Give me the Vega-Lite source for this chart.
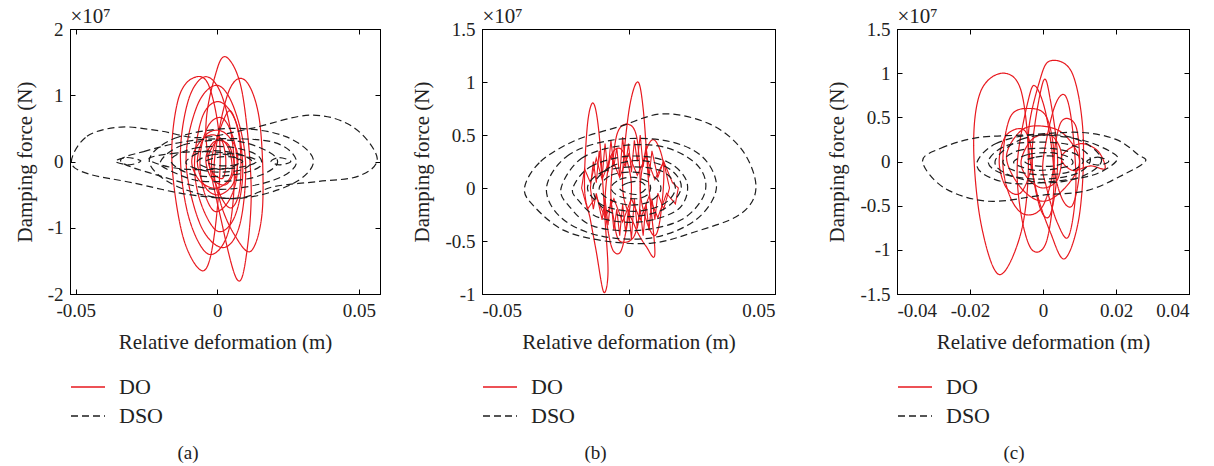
{
"$schema":"https://vega.github.io/schema/vega-lite/v6.json",
"background":"white",
"padding":{"left":13,"top":5,"right":0,"bottom":0},
"config":{
 "font":"Liberation Serif, DejaVu Serif, serif",
 "view":{"stroke":"black","strokeWidth":1},
 "axis":{"grid":false,"domainColor":"#000","tickColor":"#000","labelColor":"#222","titleColor":"#222","labelFontSize":19,"titleFontSize":21,"labelFont":"Liberation Serif, DejaVu Serif, serif","titleFont":"Liberation Serif, DejaVu Serif, serif","titleFontWeight":"normal","tickSize":-5,"labelPadding":12,"titlePadding":11},
 "axisY":{"titlePadding":12},
 "legend":{"symbolType":"stroke","symbolSize":1156,"symbolStrokeWidth":1.3,"labelFontSize":22,"labelFont":"Liberation Serif, DejaVu Serif, serif","labelColor":"#222","rowPadding":-9,"labelOffset":13},
 "title":{"fontSize":19,"fontWeight":"normal","font":"Liberation Serif, DejaVu Serif, serif","color":"#222"},
 "concat":{"spacing":30}
},
"resolve":{"scale":{"color":"independent","strokeDash":"independent","x":"independent","y":"independent"},"legend":{"color":"independent","strokeDash":"independent"}},
"spacing":50,
"datasets":{
"a":[
{"s":"DO","l":1,"x":-0.016,"y":0},{"s":"DO","l":1,"x":-0.014,"y":0.9},{"s":"DO","l":1,"x":-0.009,"y":1.25},{"s":"DO","l":1,"x":-0.003,"y":1.15},{"s":"DO","l":1,"x":0.001,"y":0.2},{"s":"DO","l":1,"x":-0.001,"y":-1.1},{"s":"DO","l":1,"x":-0.005,"y":-1.65},{"s":"DO","l":1,"x":-0.012,"y":-1.15},
{"s":"DO","l":2,"x":-0.004,"y":0.4},{"s":"DO","l":2,"x":0,"y":1.4},{"s":"DO","l":2,"x":0.004,"y":1.55},{"s":"DO","l":2,"x":0.009,"y":1.0},{"s":"DO","l":2,"x":0.012,"y":-0.4},{"s":"DO","l":2,"x":0.010,"y":-1.5},{"s":"DO","l":2,"x":0.007,"y":-1.78},{"s":"DO","l":2,"x":0.002,"y":-1.0},
{"s":"DO","l":3,"x":-0.001,"y":0},{"s":"DO","l":3,"x":0.004,"y":1.05},{"s":"DO","l":3,"x":0.010,"y":1.22},{"s":"DO","l":3,"x":0.015,"y":0.6},{"s":"DO","l":3,"x":0.016,"y":-0.7},{"s":"DO","l":3,"x":0.012,"y":-1.35},{"s":"DO","l":3,"x":0.006,"y":-1.1},{"s":"DO","l":3,"x":0.001,"y":-0.6},
{"s":"DO","l":4,"x":-0.013,"y":0.1},{"s":"DO","l":4,"x":-0.010,"y":0.95},{"s":"DO","l":4,"x":-0.004,"y":1.28},{"s":"DO","l":4,"x":0.002,"y":0.95},{"s":"DO","l":4,"x":0.006,"y":0},{"s":"DO","l":4,"x":0.004,"y":-1.05},{"s":"DO","l":4,"x":-0.003,"y":-1.4},{"s":"DO","l":4,"x":-0.010,"y":-0.85},
{"s":"DO","l":5,"x":-0.011,"y":0},{"s":"DO","l":5,"x":-0.007,"y":0.85},{"s":"DO","l":5,"x":0,"y":1.15},{"s":"DO","l":5,"x":0.006,"y":0.8},{"s":"DO","l":5,"x":0.010,"y":0},{"s":"DO","l":5,"x":0.008,"y":-0.95},{"s":"DO","l":5,"x":0.002,"y":-1.3},{"s":"DO","l":5,"x":-0.006,"y":-0.95},
{"s":"DO","l":6,"x":-0.008,"y":0},{"s":"DO","l":6,"x":-0.005,"y":0.7},{"s":"DO","l":6,"x":0.001,"y":0.9},{"s":"DO","l":6,"x":0.007,"y":0.55},{"s":"DO","l":6,"x":0.009,"y":-0.2},{"s":"DO","l":6,"x":0.006,"y":-0.85},{"s":"DO","l":6,"x":0,"y":-1.05},{"s":"DO","l":6,"x":-0.006,"y":-0.6},
{"s":"DO","l":7,"x":-0.006,"y":0.1},{"s":"DO","l":7,"x":-0.003,"y":0.55},{"s":"DO","l":7,"x":0.002,"y":0.65},{"s":"DO","l":7,"x":0.006,"y":0.3},{"s":"DO","l":7,"x":0.007,"y":-0.2},{"s":"DO","l":7,"x":0.004,"y":-0.6},{"s":"DO","l":7,"x":-0.001,"y":-0.75},{"s":"DO","l":7,"x":-0.005,"y":-0.4},
{"s":"DO","l":8,"x":-0.007,"y":0},{"s":"DO","l":8,"x":-0.004,"y":0.4},{"s":"DO","l":8,"x":0.002,"y":0.45},{"s":"DO","l":8,"x":0.007,"y":0.15},{"s":"DO","l":8,"x":0.006,"y":-0.3},{"s":"DO","l":8,"x":0.001,"y":-0.5},{"s":"DO","l":8,"x":-0.004,"y":-0.4},
{"s":"DO","l":9,"x":-0.004,"y":0.05},{"s":"DO","l":9,"x":-0.001,"y":0.3},{"s":"DO","l":9,"x":0.004,"y":0.25},{"s":"DO","l":9,"x":0.006,"y":-0.1},{"s":"DO","l":9,"x":0.003,"y":-0.35},{"s":"DO","l":9,"x":-0.002,"y":-0.25},
{"s":"DO","l":10,"x":-0.003,"y":0.1},{"s":"DO","l":10,"x":0.001,"y":0.35},{"s":"DO","l":10,"x":0.003,"y":0.05},{"s":"DO","l":10,"x":0.002,"y":-0.25},{"s":"DO","l":10,"x":-0.002,"y":-0.15},
{"s":"DO","l":11,"x":-0.009,"y":0},{"s":"DO","l":11,"x":-0.006,"y":0.3},{"s":"DO","l":11,"x":-0.001,"y":0.4},{"s":"DO","l":11,"x":0.004,"y":0.2},{"s":"DO","l":11,"x":0.005,"y":-0.2},{"s":"DO","l":11,"x":0,"y":-0.4},{"s":"DO","l":11,"x":-0.006,"y":-0.3},
{"s":"DO","l":12,"x":-0.002,"y":0},{"s":"DO","l":12,"x":0.002,"y":0.6},{"s":"DO","l":12,"x":0.005,"y":0.75},{"s":"DO","l":12,"x":0.008,"y":0.3},{"s":"DO","l":12,"x":0.008,"y":-0.4},{"s":"DO","l":12,"x":0.005,"y":-0.7},{"s":"DO","l":12,"x":0.001,"y":-0.5},
{"s":"DSO","l":21,"x":-0.0515,"y":0},{"s":"DSO","l":21,"x":-0.046,"y":0.38},{"s":"DSO","l":21,"x":-0.034,"y":0.52},{"s":"DSO","l":21,"x":-0.02,"y":0.46},{"s":"DSO","l":21,"x":-0.006,"y":0.36},{"s":"DSO","l":21,"x":0.012,"y":0.5},{"s":"DSO","l":21,"x":0.033,"y":0.7},{"s":"DSO","l":21,"x":0.048,"y":0.52},{"s":"DSO","l":21,"x":0.0565,"y":0.05},{"s":"DSO","l":21,"x":0.05,"y":-0.22},{"s":"DSO","l":21,"x":0.036,"y":-0.3},{"s":"DSO","l":21,"x":0.02,"y":-0.38},{"s":"DSO","l":21,"x":0.008,"y":-0.55},{"s":"DSO","l":21,"x":-0.01,"y":-0.5},{"s":"DSO","l":21,"x":-0.03,"y":-0.32},{"s":"DSO","l":21,"x":-0.046,"y":-0.18},
{"s":"DSO","l":22,"x":-0.024,"y":0},{"s":"DSO","l":22,"x":-0.015,"y":0.35},{"s":"DSO","l":22,"x":0.005,"y":0.5},{"s":"DSO","l":22,"x":0.024,"y":0.38},{"s":"DSO","l":22,"x":0.034,"y":0.02},{"s":"DSO","l":22,"x":0.026,"y":-0.35},{"s":"DSO","l":22,"x":0.006,"y":-0.56},{"s":"DSO","l":22,"x":-0.014,"y":-0.38},
{"s":"DSO","l":23,"x":-0.034,"y":0},{"s":"DSO","l":23,"x":-0.026,"y":0.15},{"s":"DSO","l":23,"x":-0.006,"y":0.33},{"s":"DSO","l":23,"x":0.019,"y":0.3},{"s":"DSO","l":23,"x":0.028,"y":0},{"s":"DSO","l":23,"x":0.02,"y":-0.28},{"s":"DSO","l":23,"x":0,"y":-0.42},{"s":"DSO","l":23,"x":-0.02,"y":-0.22},
{"s":"DSO","l":24,"x":-0.02,"y":0},{"s":"DSO","l":24,"x":-0.012,"y":0.25},{"s":"DSO","l":24,"x":0.005,"y":0.32},{"s":"DSO","l":24,"x":0.018,"y":0.15},{"s":"DSO","l":24,"x":0.021,"y":-0.05},{"s":"DSO","l":24,"x":0.012,"y":-0.25},{"s":"DSO","l":24,"x":-0.005,"y":-0.3},{"s":"DSO","l":24,"x":-0.016,"y":-0.15},
{"s":"DSO","l":25,"x":-0.016,"y":0.05},{"s":"DSO","l":25,"x":-0.008,"y":0.2},{"s":"DSO","l":25,"x":0.004,"y":0.22},{"s":"DSO","l":25,"x":0.014,"y":0.1},{"s":"DSO","l":25,"x":0.015,"y":-0.08},{"s":"DSO","l":25,"x":0.006,"y":-0.2},{"s":"DSO","l":25,"x":-0.006,"y":-0.22},{"s":"DSO","l":25,"x":-0.014,"y":-0.1},
{"s":"DSO","l":26,"x":-0.011,"y":0},{"s":"DSO","l":26,"x":-0.005,"y":0.15},{"s":"DSO","l":26,"x":0.005,"y":0.14},{"s":"DSO","l":26,"x":0.012,"y":0.02},{"s":"DSO","l":26,"x":0.009,"y":-0.12},{"s":"DSO","l":26,"x":0,"y":-0.16},{"s":"DSO","l":26,"x":-0.008,"y":-0.1},
{"s":"DSO","l":27,"x":-0.007,"y":0},{"s":"DSO","l":27,"x":-0.002,"y":0.1},{"s":"DSO","l":27,"x":0.004,"y":0.1},{"s":"DSO","l":27,"x":0.008,"y":0},{"s":"DSO","l":27,"x":0.004,"y":-0.1},{"s":"DSO","l":27,"x":-0.003,"y":-0.1},
{"s":"DSO","l":28,"x":-0.036,"y":0},{"s":"DSO","l":28,"x":-0.032,"y":0.06},{"s":"DSO","l":28,"x":-0.027,"y":0.01},{"s":"DSO","l":28,"x":-0.031,"y":-0.05},
{"s":"DSO","l":29,"x":0.019,"y":0},{"s":"DSO","l":29,"x":0.022,"y":0.06},{"s":"DSO","l":29,"x":0.026,"y":0},{"s":"DSO","l":29,"x":0.022,"y":-0.05},
{"s":"DSO","l":30,"x":-0.024,"y":0.05},{"s":"DSO","l":30,"x":-0.016,"y":0.12},{"s":"DSO","l":30,"x":-0.005,"y":0.15},{"s":"DSO","l":30,"x":0.008,"y":0.1},{"s":"DSO","l":30,"x":0.014,"y":0},{"s":"DSO","l":30,"x":0.006,"y":-0.1},{"s":"DSO","l":30,"x":-0.01,"y":-0.12},{"s":"DSO","l":30,"x":-0.02,"y":-0.05},
{"s":"DSO","l":31,"x":-0.004,"y":0},{"s":"DSO","l":31,"x":0,"y":0.06},{"s":"DSO","l":31,"x":0.005,"y":0.07},{"s":"DSO","l":31,"x":0.009,"y":0},{"s":"DSO","l":31,"x":0.005,"y":-0.06},{"s":"DSO","l":31,"x":0,"y":-0.06}
],
"b":[
{"s":"DO","l":1,"x":-0.015,"y":0},{"s":"DO","l":1,"x":-0.014,"y":0.6},{"s":"DO","l":1,"x":-0.012,"y":0.8},{"s":"DO","l":1,"x":-0.010,"y":0.5},{"s":"DO","l":1,"x":-0.008,"y":-0.3},{"s":"DO","l":1,"x":-0.007,"y":-0.8},{"s":"DO","l":1,"x":-0.0085,"y":-0.98},{"s":"DO","l":1,"x":-0.011,"y":-0.6},{"s":"DO","l":1,"x":-0.013,"y":-0.3},
{"s":"DO","l":2,"x":-0.002,"y":0},{"s":"DO","l":2,"x":0,"y":0.7},{"s":"DO","l":2,"x":0.003,"y":1.0},{"s":"DO","l":2,"x":0.005,"y":0.75},{"s":"DO","l":2,"x":0.007,"y":0},{"s":"DO","l":2,"x":0.009,"y":-0.62},{"s":"DO","l":2,"x":0.006,"y":-0.55},{"s":"DO","l":2,"x":0.002,"y":-0.35},
{"s":"DO","l":3,"x":-0.006,"y":0},{"s":"DO","l":3,"x":-0.004,"y":0.5},{"s":"DO","l":3,"x":0,"y":0.6},{"s":"DO","l":3,"x":0.003,"y":0.45},{"s":"DO","l":3,"x":0.004,"y":-0.1},{"s":"DO","l":3,"x":0.002,"y":-0.45},{"s":"DO","l":3,"x":-0.003,"y":-0.5},{"s":"DO","l":3,"x":-0.005,"y":-0.3},
{"s":"DO","l":4,"x":-0.008,"y":-0.1},{"s":"DO","l":4,"x":-0.006,"y":0.3},{"s":"DO","l":4,"x":-0.002,"y":0.35},{"s":"DO","l":4,"x":0.001,"y":0},{"s":"DO","l":4,"x":-0.002,"y":-0.55},{"s":"DO","l":4,"x":-0.005,"y":-0.6},{"s":"DO","l":4,"x":-0.007,"y":-0.4},
{"s":"DO","l":5,"x":0.004,"y":0},{"s":"DO","l":5,"x":0.006,"y":0.35},{"s":"DO","l":5,"x":0.009,"y":0.45},{"s":"DO","l":5,"x":0.012,"y":0.2},{"s":"DO","l":5,"x":0.011,"y":-0.25},{"s":"DO","l":5,"x":0.009,"y":-0.45},{"s":"DO","l":5,"x":0.006,"y":-0.3},
{"s":"DO","l":101,"x":-0.013,"y":0},{"s":"DO","l":101,"x":-0.012,"y":0.25},{"s":"DO","l":101,"x":-0.011,"y":0.05},{"s":"DO","l":101,"x":-0.010,"y":0.35},{"s":"DO","l":101,"x":-0.009,"y":0.1},{"s":"DO","l":101,"x":-0.008,"y":0.42},{"s":"DO","l":101,"x":-0.007,"y":0.15},{"s":"DO","l":101,"x":-0.006,"y":0.45},{"s":"DO","l":101,"x":-0.005,"y":0.2},{"s":"DO","l":101,"x":-0.004,"y":0.38},{"s":"DO","l":101,"x":-0.003,"y":0.1},{"s":"DO","l":101,"x":-0.002,"y":0.48},{"s":"DO","l":101,"x":-0.001,"y":0.2},{"s":"DO","l":101,"x":0,"y":0.42},{"s":"DO","l":101,"x":0.001,"y":0.15},{"s":"DO","l":101,"x":0.002,"y":0.45},{"s":"DO","l":101,"x":0.003,"y":0.25},{"s":"DO","l":101,"x":0.004,"y":0.5},{"s":"DO","l":101,"x":0.005,"y":0.2},{"s":"DO","l":101,"x":0.006,"y":0.4},{"s":"DO","l":101,"x":0.007,"y":0.1},{"s":"DO","l":101,"x":0.008,"y":0.35},{"s":"DO","l":101,"x":0.010,"y":0.1},{"s":"DO","l":101,"x":0.012,"y":0.25},{"s":"DO","l":101,"x":0.014,"y":0},{"s":"DO","l":101,"x":0.012,"y":-0.2},{"s":"DO","l":101,"x":0.010,"y":-0.05},{"s":"DO","l":101,"x":0.009,"y":-0.3},{"s":"DO","l":101,"x":0.008,"y":-0.1},{"s":"DO","l":101,"x":0.007,"y":-0.4},{"s":"DO","l":101,"x":0.006,"y":-0.15},{"s":"DO","l":101,"x":0.005,"y":-0.45},{"s":"DO","l":101,"x":0.004,"y":-0.2},{"s":"DO","l":101,"x":0.003,"y":-0.38},{"s":"DO","l":101,"x":0.002,"y":-0.1},{"s":"DO","l":101,"x":0.001,"y":-0.48},{"s":"DO","l":101,"x":0,"y":-0.2},{"s":"DO","l":101,"x":-0.001,"y":-0.42},{"s":"DO","l":101,"x":-0.002,"y":-0.15},{"s":"DO","l":101,"x":-0.003,"y":-0.45},{"s":"DO","l":101,"x":-0.004,"y":-0.2},{"s":"DO","l":101,"x":-0.005,"y":-0.4},{"s":"DO","l":101,"x":-0.006,"y":-0.1},{"s":"DO","l":101,"x":-0.007,"y":-0.35},{"s":"DO","l":101,"x":-0.008,"y":-0.1},{"s":"DO","l":101,"x":-0.009,"y":-0.3},{"s":"DO","l":101,"x":-0.011,"y":-0.05},{"s":"DO","l":101,"x":-0.012,"y":-0.2},
{"s":"DO","l":102,"x":-0.016,"y":0},{"s":"DO","l":102,"x":-0.015,"y":0.18},{"s":"DO","l":102,"x":-0.013,"y":0.05},{"s":"DO","l":102,"x":-0.011,"y":0.28},{"s":"DO","l":102,"x":-0.009,"y":0.08},{"s":"DO","l":102,"x":-0.006,"y":0.3},{"s":"DO","l":102,"x":-0.003,"y":0.1},{"s":"DO","l":102,"x":0,"y":0.32},{"s":"DO","l":102,"x":0.003,"y":0.12},{"s":"DO","l":102,"x":0.006,"y":0.3},{"s":"DO","l":102,"x":0.009,"y":0.08},{"s":"DO","l":102,"x":0.012,"y":0.25},{"s":"DO","l":102,"x":0.015,"y":0.05},{"s":"DO","l":102,"x":0.017,"y":0},{"s":"DO","l":102,"x":0.016,"y":-0.15},{"s":"DO","l":102,"x":0.013,"y":-0.05},{"s":"DO","l":102,"x":0.010,"y":-0.28},{"s":"DO","l":102,"x":0.007,"y":-0.08},{"s":"DO","l":102,"x":0.004,"y":-0.3},{"s":"DO","l":102,"x":0.001,"y":-0.1},{"s":"DO","l":102,"x":-0.002,"y":-0.32},{"s":"DO","l":102,"x":-0.005,"y":-0.1},{"s":"DO","l":102,"x":-0.008,"y":-0.28},{"s":"DO","l":102,"x":-0.011,"y":-0.08},{"s":"DO","l":102,"x":-0.014,"y":-0.2},
{"s":"DSO","l":21,"x":-0.0355,"y":0},{"s":"DSO","l":21,"x":-0.03,"y":0.25},{"s":"DSO","l":21,"x":-0.018,"y":0.45},{"s":"DSO","l":21,"x":-0.003,"y":0.58},{"s":"DSO","l":21,"x":0.012,"y":0.7},{"s":"DSO","l":21,"x":0.028,"y":0.6},{"s":"DSO","l":21,"x":0.039,"y":0.35},{"s":"DSO","l":21,"x":0.0435,"y":0},{"s":"DSO","l":21,"x":0.038,"y":-0.25},{"s":"DSO","l":21,"x":0.022,"y":-0.42},{"s":"DSO","l":21,"x":0.008,"y":-0.52},{"s":"DSO","l":21,"x":-0.008,"y":-0.5},{"s":"DSO","l":21,"x":-0.022,"y":-0.4},{"s":"DSO","l":21,"x":-0.032,"y":-0.18},
{"s":"DSO","l":22,"x":-0.028,"y":0},{"s":"DSO","l":22,"x":-0.021,"y":0.3},{"s":"DSO","l":22,"x":-0.006,"y":0.45},{"s":"DSO","l":22,"x":0.012,"y":0.45},{"s":"DSO","l":22,"x":0.025,"y":0.3},{"s":"DSO","l":22,"x":0.03,"y":0},{"s":"DSO","l":22,"x":0.023,"y":-0.3},{"s":"DSO","l":22,"x":0.008,"y":-0.47},{"s":"DSO","l":22,"x":-0.01,"y":-0.45},{"s":"DSO","l":22,"x":-0.023,"y":-0.28},
{"s":"DSO","l":23,"x":-0.023,"y":0},{"s":"DSO","l":23,"x":-0.016,"y":0.28},{"s":"DSO","l":23,"x":-0.002,"y":0.4},{"s":"DSO","l":23,"x":0.013,"y":0.38},{"s":"DSO","l":23,"x":0.024,"y":0.2},{"s":"DSO","l":23,"x":0.026,"y":-0.05},{"s":"DSO","l":23,"x":0.018,"y":-0.3},{"s":"DSO","l":23,"x":0.003,"y":-0.4},{"s":"DSO","l":23,"x":-0.012,"y":-0.36},{"s":"DSO","l":23,"x":-0.02,"y":-0.18},
{"s":"DSO","l":24,"x":-0.019,"y":0},{"s":"DSO","l":24,"x":-0.013,"y":0.2},{"s":"DSO","l":24,"x":0,"y":0.3},{"s":"DSO","l":24,"x":0.013,"y":0.25},{"s":"DSO","l":24,"x":0.02,"y":0.05},{"s":"DSO","l":24,"x":0.017,"y":-0.2},{"s":"DSO","l":24,"x":0.004,"y":-0.32},{"s":"DSO","l":24,"x":-0.01,"y":-0.28},{"s":"DSO","l":24,"x":-0.017,"y":-0.12},
{"s":"DSO","l":25,"x":-0.014,"y":0},{"s":"DSO","l":25,"x":-0.009,"y":0.15},{"s":"DSO","l":25,"x":0.002,"y":0.2},{"s":"DSO","l":25,"x":0.012,"y":0.15},{"s":"DSO","l":25,"x":0.016,"y":0},{"s":"DSO","l":25,"x":0.012,"y":-0.15},{"s":"DSO","l":25,"x":0.002,"y":-0.22},{"s":"DSO","l":25,"x":-0.009,"y":-0.16},
{"s":"DSO","l":26,"x":-0.01,"y":0},{"s":"DSO","l":26,"x":-0.006,"y":0.12},{"s":"DSO","l":26,"x":0.002,"y":0.15},{"s":"DSO","l":26,"x":0.009,"y":0.1},{"s":"DSO","l":26,"x":0.011,"y":-0.02},{"s":"DSO","l":26,"x":0.007,"y":-0.13},{"s":"DSO","l":26,"x":0,"y":-0.16},{"s":"DSO","l":26,"x":-0.007,"y":-0.1},
{"s":"DSO","l":27,"x":-0.006,"y":0},{"s":"DSO","l":27,"x":-0.003,"y":0.08},{"s":"DSO","l":27,"x":0.002,"y":0.1},{"s":"DSO","l":27,"x":0.007,"y":0.05},{"s":"DSO","l":27,"x":0.007,"y":-0.05},{"s":"DSO","l":27,"x":0.003,"y":-0.1},{"s":"DSO","l":27,"x":-0.003,"y":-0.08},
{"s":"DSO","l":28,"x":-0.003,"y":0},{"s":"DSO","l":28,"x":0,"y":0.05},{"s":"DSO","l":28,"x":0.004,"y":0.06},{"s":"DSO","l":28,"x":0.006,"y":0},{"s":"DSO","l":28,"x":0.003,"y":-0.06},{"s":"DSO","l":28,"x":-0.001,"y":-0.04},
{"s":"DSO","l":29,"x":-0.012,"y":0.02},{"s":"DSO","l":29,"x":-0.006,"y":0.2},{"s":"DSO","l":29,"x":0.004,"y":0.26},{"s":"DSO","l":29,"x":0.014,"y":0.18},{"s":"DSO","l":29,"x":0.018,"y":0},{"s":"DSO","l":29,"x":0.012,"y":-0.2},{"s":"DSO","l":29,"x":0,"y":-0.27},{"s":"DSO","l":29,"x":-0.009,"y":-0.18}
],
"c":[
{"s":"DO","l":1,"x":-0.019,"y":0.2},{"s":"DO","l":1,"x":-0.017,"y":0.8},{"s":"DO","l":1,"x":-0.011,"y":1.0},{"s":"DO","l":1,"x":-0.006,"y":0.8},{"s":"DO","l":1,"x":-0.004,"y":0},{"s":"DO","l":1,"x":-0.006,"y":-0.8},{"s":"DO","l":1,"x":-0.012,"y":-1.28},{"s":"DO","l":1,"x":-0.017,"y":-0.7},
{"s":"DO","l":2,"x":-0.004,"y":0.3},{"s":"DO","l":2,"x":-0.001,"y":0.9},{"s":"DO","l":2,"x":0.002,"y":1.14},{"s":"DO","l":2,"x":0.008,"y":1.0},{"s":"DO","l":2,"x":0.011,"y":0.3},{"s":"DO","l":2,"x":0.010,"y":-0.6},{"s":"DO","l":2,"x":0.006,"y":-1.1},{"s":"DO","l":2,"x":0.002,"y":-0.8},{"s":"DO","l":2,"x":-0.002,"y":-0.3},
{"s":"DO","l":3,"x":-0.007,"y":0},{"s":"DO","l":3,"x":-0.004,"y":0.7},{"s":"DO","l":3,"x":-0.002,"y":0.85},{"s":"DO","l":3,"x":0.001,"y":0.5},{"s":"DO","l":3,"x":0.003,"y":-0.2},{"s":"DO","l":3,"x":0.001,"y":-0.9},{"s":"DO","l":3,"x":-0.003,"y":-1.0},{"s":"DO","l":3,"x":-0.006,"y":-0.6},
{"s":"DO","l":4,"x":-0.011,"y":0},{"s":"DO","l":4,"x":-0.009,"y":0.5},{"s":"DO","l":4,"x":-0.004,"y":0.6},{"s":"DO","l":4,"x":0.001,"y":0.5},{"s":"DO","l":4,"x":0.003,"y":0},{"s":"DO","l":4,"x":0,"y":-0.5},{"s":"DO","l":4,"x":-0.005,"y":-0.6},{"s":"DO","l":4,"x":-0.009,"y":-0.4},
{"s":"DO","l":5,"x":0,"y":0},{"s":"DO","l":5,"x":0.003,"y":0.6},{"s":"DO","l":5,"x":0.006,"y":0.75},{"s":"DO","l":5,"x":0.008,"y":0.4},{"s":"DO","l":5,"x":0.009,"y":-0.3},{"s":"DO","l":5,"x":0.007,"y":-0.85},{"s":"DO","l":5,"x":0.004,"y":-0.7},{"s":"DO","l":5,"x":0.001,"y":-0.3},
{"s":"DO","l":6,"x":-0.01,"y":0.05},{"s":"DO","l":6,"x":-0.006,"y":0.35},{"s":"DO","l":6,"x":0,"y":0.4},{"s":"DO","l":6,"x":0.006,"y":0.3},{"s":"DO","l":6,"x":0.01,"y":0},{"s":"DO","l":6,"x":0.006,"y":-0.3},{"s":"DO","l":6,"x":0,"y":-0.45},{"s":"DO","l":6,"x":-0.006,"y":-0.3},
{"s":"DO","l":7,"x":-0.006,"y":0},{"s":"DO","l":7,"x":-0.003,"y":0.25},{"s":"DO","l":7,"x":0.002,"y":0.3},{"s":"DO","l":7,"x":0.005,"y":0.1},{"s":"DO","l":7,"x":0.004,"y":-0.2},{"s":"DO","l":7,"x":0,"y":-0.3},{"s":"DO","l":7,"x":-0.004,"y":-0.2},
{"s":"DO","l":8,"x":0.005,"y":0.05},{"s":"DO","l":8,"x":0.01,"y":0.2},{"s":"DO","l":8,"x":0.015,"y":0.12},{"s":"DO","l":8,"x":0.017,"y":-0.08},{"s":"DO","l":8,"x":0.013,"y":-0.05},{"s":"DO","l":8,"x":0.008,"y":-0.1},
{"s":"DO","l":9,"x":-0.003,"y":0.1},{"s":"DO","l":9,"x":0,"y":0.9},{"s":"DO","l":9,"x":0.002,"y":0.7},{"s":"DO","l":9,"x":0.004,"y":0},{"s":"DO","l":9,"x":0.002,"y":-0.6},{"s":"DO","l":9,"x":-0.001,"y":-0.5},
{"s":"DO","l":10,"x":-0.012,"y":0},{"s":"DO","l":10,"x":-0.01,"y":0.3},{"s":"DO","l":10,"x":-0.005,"y":0.35},{"s":"DO","l":10,"x":-0.003,"y":0},{"s":"DO","l":10,"x":-0.006,"y":-0.35},{"s":"DO","l":10,"x":-0.01,"y":-0.3},
{"s":"DO","l":11,"x":0.003,"y":0},{"s":"DO","l":11,"x":0.005,"y":0.45},{"s":"DO","l":11,"x":0.009,"y":0.4},{"s":"DO","l":11,"x":0.01,"y":-0.1},{"s":"DO","l":11,"x":0.008,"y":-0.5},{"s":"DO","l":11,"x":0.005,"y":-0.4},
{"s":"DSO","l":21,"x":-0.033,"y":0},{"s":"DSO","l":21,"x":-0.028,"y":0.15},{"s":"DSO","l":21,"x":-0.018,"y":0.27},{"s":"DSO","l":21,"x":-0.005,"y":0.3},{"s":"DSO","l":21,"x":0.01,"y":0.33},{"s":"DSO","l":21,"x":0.02,"y":0.25},{"s":"DSO","l":21,"x":0.026,"y":0.08},{"s":"DSO","l":21,"x":0.028,"y":0},{"s":"DSO","l":21,"x":0.022,"y":-0.15},{"s":"DSO","l":21,"x":0.012,"y":-0.33},{"s":"DSO","l":21,"x":0,"y":-0.38},{"s":"DSO","l":21,"x":-0.015,"y":-0.45},{"s":"DSO","l":21,"x":-0.027,"y":-0.3},
{"s":"DSO","l":22,"x":-0.018,"y":0},{"s":"DSO","l":22,"x":-0.013,"y":0.2},{"s":"DSO","l":22,"x":-0.003,"y":0.3},{"s":"DSO","l":22,"x":0.01,"y":0.25},{"s":"DSO","l":22,"x":0.019,"y":0.1},{"s":"DSO","l":22,"x":0.02,"y":0},{"s":"DSO","l":22,"x":0.014,"y":-0.15},{"s":"DSO","l":22,"x":0.004,"y":-0.22},{"s":"DSO","l":22,"x":-0.008,"y":-0.25},{"s":"DSO","l":22,"x":-0.016,"y":-0.15},
{"s":"DSO","l":23,"x":-0.015,"y":0},{"s":"DSO","l":23,"x":-0.01,"y":0.18},{"s":"DSO","l":23,"x":0,"y":0.22},{"s":"DSO","l":23,"x":0.009,"y":0.17},{"s":"DSO","l":23,"x":0.013,"y":0.02},{"s":"DSO","l":23,"x":0.009,"y":-0.14},{"s":"DSO","l":23,"x":-0.001,"y":-0.2},{"s":"DSO","l":23,"x":-0.011,"y":-0.14},
{"s":"DSO","l":24,"x":-0.011,"y":0},{"s":"DSO","l":24,"x":-0.007,"y":0.12},{"s":"DSO","l":24,"x":0.001,"y":0.15},{"s":"DSO","l":24,"x":0.008,"y":0.1},{"s":"DSO","l":24,"x":0.011,"y":0},{"s":"DSO","l":24,"x":0.007,"y":-0.12},{"s":"DSO","l":24,"x":-0.001,"y":-0.15},{"s":"DSO","l":24,"x":-0.008,"y":-0.1},
{"s":"DSO","l":25,"x":-0.008,"y":0},{"s":"DSO","l":25,"x":-0.004,"y":0.08},{"s":"DSO","l":25,"x":0.002,"y":0.1},{"s":"DSO","l":25,"x":0.007,"y":0.05},{"s":"DSO","l":25,"x":0.008,"y":-0.03},{"s":"DSO","l":25,"x":0.004,"y":-0.08},{"s":"DSO","l":25,"x":-0.002,"y":-0.1},{"s":"DSO","l":25,"x":-0.006,"y":-0.06},
{"s":"DSO","l":26,"x":-0.005,"y":0},{"s":"DSO","l":26,"x":-0.002,"y":0.05},{"s":"DSO","l":26,"x":0.003,"y":0.06},{"s":"DSO","l":26,"x":0.006,"y":0},{"s":"DSO","l":26,"x":0.003,"y":-0.05},{"s":"DSO","l":26,"x":-0.002,"y":-0.05},
{"s":"DSO","l":27,"x":0.012,"y":0},{"s":"DSO","l":27,"x":0.015,"y":0.05},{"s":"DSO","l":27,"x":0.018,"y":0},{"s":"DSO","l":27,"x":0.015,"y":-0.04},
{"s":"DSO","l":28,"x":-0.013,"y":0.02},{"s":"DSO","l":28,"x":-0.006,"y":0.25},{"s":"DSO","l":28,"x":0.004,"y":0.3},{"s":"DSO","l":28,"x":0.012,"y":0.2},{"s":"DSO","l":28,"x":0.016,"y":0},{"s":"DSO","l":28,"x":0.01,"y":-0.18},{"s":"DSO","l":28,"x":0,"y":-0.24},{"s":"DSO","l":28,"x":-0.01,"y":-0.14}
]
},
"hconcat":[
{
"spacing":30,
"resolve":{"scale":{"color":"independent","strokeDash":"independent","x":"independent","y":"independent"},"legend":{"color":"independent","strokeDash":"independent"}},
"hconcat":[
{
 "width":310,"height":265,
 "data":{"name":"a"},
 "title":{"text":"(a)","orient":"bottom","dx":-37,"offset":17},
 "layer":[
  {"transform":[{"filter":"datum.s=='DO'"}],
   "mark":{"type":"line","interpolate":"cardinal-closed","strokeWidth":1.2,"clip":true},
   "encoding":{
    "x":{"field":"x","type":"quantitative","scale":{"domain":[-0.052,0.0575],"nice":false,"zero":false},"axis":{"title":"Relative deformation (m)","values":[-0.05,0,0.05],"format":"~g","labelExpr":"replace(datum.label,'−','-')"}},
    "y":{"field":"y","type":"quantitative","scale":{"domain":[-2,2],"nice":false,"zero":false},"axis":{"title":"Damping force (N)","values":[-2,-1,0,1,2],"format":"~g","labelExpr":"replace(datum.label,'−','-')"}},
    "color":{"field":"s","type":"nominal","scale":{"domain":["DO","DSO"],"range":["#e8191f","#1e1e1e"]},"legend":{"orient":"none","legendX":0,"legendY":340,"title":null,"direction":"vertical"}},
    "strokeDash":{"field":"s","type":"nominal","scale":{"domain":["DO","DSO"],"range":[[1,0],[7,4]]},"legend":{"orient":"none","legendX":0,"legendY":340,"title":null,"direction":"vertical"}},
    "detail":{"field":"l","type":"nominal"},
    "order":{"value":null}}},
  {"transform":[{"filter":"datum.s=='DSO'"}],
   "mark":{"type":"line","interpolate":"cardinal-closed","strokeWidth":1.2,"clip":true},
   "encoding":{
    "x":{"field":"x","type":"quantitative","scale":{"domain":[-0.052,0.0575],"nice":false,"zero":false},"axis":{"orient":"top","labels":false,"title":"×10⁷","titleAnchor":"start","titleAlign":"left","titlePadding":2,"values":[-0.05,0,0.05]}},
    "y":{"field":"y","type":"quantitative","scale":{"domain":[-2,2],"nice":false,"zero":false},"axis":{"orient":"right","labels":false,"title":null,"values":[-2,-1,0,1,2]}},
    "color":{"field":"s","type":"nominal"},
    "strokeDash":{"field":"s","type":"nominal"},
    "detail":{"field":"l","type":"nominal"},
    "order":{"value":null}}}
 ],
 "resolve":{"axis":{"x":"independent","y":"independent"}}
},
{
 "width":293,"height":265,
 "data":{"name":"b"},
 "title":{"text":"(b)","orient":"bottom","dx":-33,"offset":17},
 "layer":[
  {"transform":[{"filter":"datum.s=='DO' && datum.l<100"}],
   "mark":{"type":"line","interpolate":"cardinal-closed","strokeWidth":1.2,"clip":true},
   "encoding":{
    "x":{"field":"x","type":"quantitative","scale":{"domain":[-0.05,0.05],"nice":false,"zero":false},"axis":{"title":"Relative deformation (m)","values":[-0.05,0,0.05],"format":"~g","labelExpr":"replace(datum.label,'−','-')"}},
    "y":{"field":"y","type":"quantitative","scale":{"domain":[-1,1.5],"nice":false,"zero":false},"axis":{"title":"Damping force (N)","values":[-1,-0.5,0,0.5,1,1.5],"format":"~g","labelExpr":"replace(datum.label,'−','-')"}},
    "color":{"field":"s","type":"nominal","scale":{"domain":["DO","DSO"],"range":["#e8191f","#1e1e1e"]},"legend":{"orient":"none","legendX":0,"legendY":340,"title":null,"direction":"vertical"}},
    "strokeDash":{"field":"s","type":"nominal","scale":{"domain":["DO","DSO"],"range":[[1,0],[7,4]]},"legend":{"orient":"none","legendX":0,"legendY":340,"title":null,"direction":"vertical"}},
    "detail":{"field":"l","type":"nominal"},
    "order":{"value":null}}},
  {"transform":[{"filter":"datum.l>=100"}],
   "mark":{"type":"line","interpolate":"linear-closed","strokeWidth":1.1,"clip":true},
   "encoding":{
    "x":{"field":"x","type":"quantitative","axis":null},
    "y":{"field":"y","type":"quantitative","axis":null},
    "color":{"field":"s","type":"nominal"},
    "strokeDash":{"field":"s","type":"nominal"},
    "detail":{"field":"l","type":"nominal"},
    "order":{"value":null}}},
  {"transform":[{"filter":"datum.s=='DSO'"}],
   "mark":{"type":"line","interpolate":"cardinal-closed","strokeWidth":1.2,"clip":true},
   "encoding":{
    "x":{"field":"x","type":"quantitative","axis":{"orient":"top","labels":false,"title":"×10⁷","titleAnchor":"start","titleAlign":"left","titlePadding":2,"values":[-0.05,0,0.05]}},
    "y":{"field":"y","type":"quantitative","axis":{"orient":"right","labels":false,"title":null,"values":[-1,-0.5,0,0.5,1,1.5]}},
    "color":{"field":"s","type":"nominal"},
    "strokeDash":{"field":"s","type":"nominal"},
    "detail":{"field":"l","type":"nominal"},
    "order":{"value":null}}}
 ],
 "resolve":{"axis":{"x":"independent","y":"independent"}}
}
]
},
{
 "width":292,"height":265,
 "data":{"name":"c"},
 "title":{"text":"(c)","orient":"bottom","dx":-29,"offset":17},
 "layer":[
  {"transform":[{"filter":"datum.s=='DO'"}],
   "mark":{"type":"line","interpolate":"cardinal-closed","strokeWidth":1.2,"clip":true},
   "encoding":{
    "x":{"field":"x","type":"quantitative","scale":{"domain":[-0.04,0.04],"nice":false,"zero":false},"axis":{"title":"Relative deformation (m)","values":[-0.04,-0.02,0,0.02,0.04],"format":"~g","labelExpr":"replace(datum.label,'−','-')"}},
    "y":{"field":"y","type":"quantitative","scale":{"domain":[-1.5,1.5],"nice":false,"zero":false},"axis":{"title":"Damping force (N)","values":[-1.5,-1,-0.5,0,0.5,1,1.5],"format":"~g","labelExpr":"replace(datum.label,'−','-')"}},
    "color":{"field":"s","type":"nominal","scale":{"domain":["DO","DSO"],"range":["#e8191f","#1e1e1e"]},"legend":{"orient":"none","legendX":0,"legendY":340,"title":null,"direction":"vertical"}},
    "strokeDash":{"field":"s","type":"nominal","scale":{"domain":["DO","DSO"],"range":[[1,0],[7,4]]},"legend":{"orient":"none","legendX":0,"legendY":340,"title":null,"direction":"vertical"}},
    "detail":{"field":"l","type":"nominal"},
    "order":{"value":null}}},
  {"transform":[{"filter":"datum.s=='DSO'"}],
   "mark":{"type":"line","interpolate":"cardinal-closed","strokeWidth":1.2,"clip":true},
   "encoding":{
    "x":{"field":"x","type":"quantitative","axis":{"orient":"top","labels":false,"title":"×10⁷","titleAnchor":"start","titleAlign":"left","titlePadding":2,"values":[-0.04,-0.02,0,0.02,0.04]}},
    "y":{"field":"y","type":"quantitative","axis":{"orient":"right","labels":false,"title":null,"values":[-1.5,-1,-0.5,0,0.5,1,1.5]}},
    "color":{"field":"s","type":"nominal"},
    "strokeDash":{"field":"s","type":"nominal"},
    "detail":{"field":"l","type":"nominal"},
    "order":{"value":null}}}
 ],
 "resolve":{"axis":{"x":"independent","y":"independent"}}
}
]
}
